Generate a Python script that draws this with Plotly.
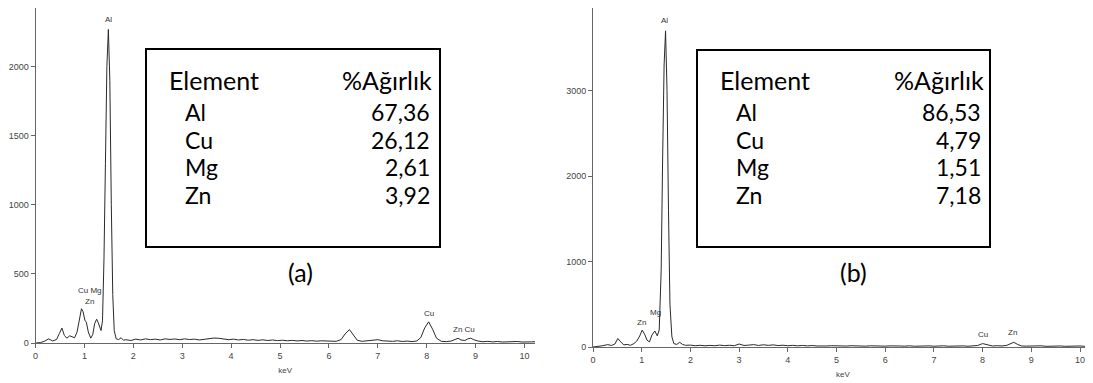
import plotly.graph_objects as go

W, H = 1093, 383
OFF = 8  # page body margin offset in the screenshot

# ---------------- data ----------------
energy_a = [0.00, 0.10, 0.18, 0.27, 0.35, 0.43, 0.49, 0.54, 0.59, 0.64, 0.70, 0.75, 0.80, 0.85, 0.90,
            0.94, 0.97, 1.01, 1.04, 1.08, 1.13, 1.17, 1.21, 1.25, 1.28, 1.31, 1.34, 1.37, 1.40, 1.43,
            1.46, 1.49, 1.52, 1.55, 1.58, 1.61, 1.65, 1.70, 1.75, 1.80, 1.85, 1.95, 2.05, 2.15, 2.25,
            2.35, 2.45, 2.55, 2.65, 2.75, 2.85, 2.95, 3.05, 3.15, 3.25, 3.35, 3.45, 3.55, 3.65, 3.75,
            3.85, 3.95, 4.05, 4.15, 4.25, 4.35, 4.45, 4.55, 4.65, 4.75, 4.85, 4.95, 5.05, 5.15, 5.25,
            5.35, 5.45, 5.55, 5.65, 5.75, 5.85, 5.95, 6.05, 6.15, 6.25, 6.33, 6.42, 6.50, 6.58, 6.68,
            6.80, 6.90, 7.00, 7.10, 7.20, 7.30, 7.40, 7.50, 7.60, 7.70, 7.80, 7.88, 7.96, 8.04, 8.12,
            8.20, 8.30, 8.40, 8.50, 8.58, 8.64, 8.70, 8.78, 8.84, 8.90, 8.96, 9.05, 9.15, 9.25, 9.35,
            9.45, 9.55, 9.65, 9.75, 9.85, 9.95, 10.05, 10.15, 10.22]
counts_a = [0, 3, 12, 30, 15, 25, 70, 108, 55, 35, 52, 45, 38, 80, 180,
            248, 230, 165, 150, 80, 35, 60, 140, 172, 150, 110, 90, 160, 600, 1300,
            2000, 2268, 1900, 1000, 350, 90, 30, 25, 38, 20, 24, 18, 28, 22, 30,
            24, 28, 22, 30, 26, 29, 24, 30, 25, 28, 22, 27, 30, 36, 34,
            28, 24, 28, 22, 26, 20, 24, 19, 23, 18, 22, 17, 20, 16, 19,
            15, 18, 14, 17, 13, 16, 14, 15, 12, 25, 65, 97, 55, 20, 12,
            15, 18, 24, 16, 14, 12, 16, 11, 14, 10, 15, 40, 110, 153, 100,
            35, 12, 10, 14, 26, 34, 22, 18, 30, 35, 24, 14, 9, 12, 8,
            11, 7, 10, 8, 11, 7, 10, 8, 9]

energy_b = [0.00, 0.10, 0.20, 0.30, 0.38, 0.45, 0.51, 0.57, 0.63, 0.70, 0.77, 0.84, 0.90, 0.96, 1.01,
            1.06, 1.11, 1.16, 1.21, 1.27, 1.32, 1.36, 1.40, 1.43, 1.46, 1.49, 1.52, 1.55, 1.58, 1.62,
            1.66, 1.72, 1.78, 1.84, 1.90, 2.00, 2.10, 2.20, 2.30, 2.40, 2.50, 2.60, 2.70, 2.80, 2.90,
            3.00, 3.10, 3.20, 3.30, 3.40, 3.50, 3.60, 3.70, 3.80, 3.90, 4.00, 4.10, 4.20, 4.30, 4.40,
            4.50, 4.60, 4.70, 4.80, 4.90, 5.00, 5.10, 5.20, 5.30, 5.40, 5.50, 5.60, 5.70, 5.80, 5.90,
            6.00, 6.10, 6.20, 6.30, 6.40, 6.50, 6.60, 6.70, 6.80, 6.90, 7.00, 7.10, 7.20, 7.30, 7.40,
            7.50, 7.60, 7.70, 7.80, 7.90, 8.00, 8.08, 8.20, 8.30, 8.40, 8.50, 8.58, 8.64, 8.72, 8.80,
            8.90, 9.00, 9.10, 9.20, 9.30, 9.40, 9.50, 9.60, 9.70, 9.80, 9.90, 10.00, 10.10, 10.20, 10.27]
counts_b = [0, 5, 15, 28, 18, 35, 100, 60, 25, 30, 20, 40, 70, 130, 198,
            150, 80, 60, 140, 187, 130, 200, 900, 2200, 3300, 3700, 3000, 1600, 500, 120,
            40, 30, 55, 30, 20, 22, 15, 20, 14, 19, 15, 22, 16, 20, 15,
            35, 18, 22, 28, 18, 26, 19, 25, 17, 21, 15, 19, 14, 18, 13,
            17, 12, 16, 12, 15, 12, 16, 11, 15, 12, 14, 10, 14, 11, 13,
            10, 13, 9, 12, 10, 14, 9, 12, 10, 13, 9, 12, 14, 9, 12,
            10, 13, 9, 12, 18, 40, 30, 12, 15, 12, 20, 45, 55, 30, 12,
            10, 12, 9, 14, 8, 11, 9, 12, 8, 11, 9, 12, 8, 11, 10]

xticks = [0, 1, 2, 3, 4, 5, 6, 7, 8, 9, 10]
yticks_a = [0, 500, 1000, 1500, 2000]
yticks_b = [0, 1000, 2000, 3000]

# peak labels: (text, keV, counts)
peak_labels_a = [("Al", 1.49, 2290), ("Cu Mg", 1.12, 330), ("Zn", 1.10, 250),
                 ("Cu", 8.04, 165), ("Zn Cu", 8.76, 50)]
peak_labels_b = [("Al", 1.46, 3740), ("Mg", 1.29, 325), ("Zn", 0.99, 205),
                 ("Cu", 8.01, 70), ("Zn", 8.62, 95)]

table_header = ["Element", "%Ağırlık"]
elements = ["Al", "Cu", "Mg", "Zn"]
wt_a = ["67,36", "26,12", "2,61", "3,92"]
wt_b = ["86,53", "4,79", "1,51", "7,18"]
panel_labels = ["(a)", "(b)"]

# ---------------- figure ----------------
LINE = "#2a2a2a"
AX = "#666666"
TICKFONT = "Liberation Sans, Arial"

fig = go.Figure()
fig.add_trace(go.Scatter(x=energy_a, y=counts_a, mode="lines", xaxis="x", yaxis="y",
                         line=dict(color=LINE, width=1), showlegend=False, hoverinfo="skip"))
fig.add_trace(go.Scatter(x=energy_b, y=counts_b, mode="lines", xaxis="x2", yaxis="y2",
                         line=dict(color=LINE, width=1), showlegend=False, hoverinfo="skip"))


def fx(x):
    return (x - OFF) / W


def fy(y):
    return 1 - (y - OFF) / H


def axis_style(**kw):
    d = dict(showline=True, linecolor=AX, linewidth=1, ticks="outside", ticklen=4,
             tickcolor=AX, tickwidth=1, showgrid=False, zeroline=False, automargin=False,
             tickfont=dict(family=TICKFONT, size=9, color="#444444"))
    d.update(kw)
    return d


# panel (a) geometry (screen pixels of the reference)
ax0, ax1 = 35.5, 535.0
ay0, ay1 = 343.0, 5.0
xr_a = (ax1 - ax0) / 48.9
yr_a = (ay0 - ay1) / 0.1395
# panel (b) geometry
bx0, bx1 = 593.0, 1093.0
by0, by1 = 347.0, 7.0
xr_b = (bx1 - bx0) / 48.7
yr_b = (by0 - by1) / 0.0857

title_font = dict(family=TICKFONT, size=8, color="#444")
fig.update_layout(
    width=W, height=H, margin=dict(l=0, r=0, t=0, b=0, autoexpand=False),
    paper_bgcolor="white", plot_bgcolor="white",
    xaxis=axis_style(domain=[fx(ax0), fx(ax1)], range=[0, xr_a], tickvals=xticks, anchor="y",
                     title=dict(text="keV", font=title_font, standoff=7)),
    yaxis=axis_style(domain=[fy(ay0), min(fy(ay1), 1)], range=[0, yr_a], tickvals=yticks_a, anchor="x"),
    xaxis2=axis_style(domain=[fx(bx0), fx(bx1)], range=[0, xr_b], tickvals=xticks, anchor="y2",
                      title=dict(text="keV", font=title_font, standoff=7)),
    yaxis2=axis_style(domain=[fy(by0), min(fy(by1), 1)], range=[0, yr_b], tickvals=yticks_b, anchor="x2"),
)

annots = []
for (t, x, y) in peak_labels_a:
    annots.append(dict(text=t, x=x, y=y, xref="x", yref="y", showarrow=False, yanchor="bottom",
                       font=dict(family=TICKFONT, size=8, color="#333")))
for (t, x, y) in peak_labels_b:
    annots.append(dict(text=t, x=x, y=y, xref="x2", yref="y2", showarrow=False, yanchor="bottom",
                       font=dict(family=TICKFONT, size=8, color="#333")))

TF = "Lato, Open Sans, sans-serif"
TS_HEAD = 25
TS_ROW = 23
shapes = []
tables = [
    dict(box=(146, 49, 440, 247), elem_x=167, val_r=432, vals=wt_a, head_r=434, label=panel_labels[0], label_x=300),
    dict(box=(697, 50, 990, 247), elem_x=718, val_r=983, vals=wt_b, head_r=986, label=panel_labels[1], label_x=853),
]
row_y = [112, 140, 167, 195]
for tb in tables:
    x0, y0, x1, y1 = tb["box"]
    shapes.append(dict(type="rect", xref="paper", yref="paper",
                       x0=fx(x0), x1=fx(x1), y0=fy(y1), y1=fy(y0),
                       line=dict(color="black", width=2), fillcolor="rgba(0,0,0,0)"))
    annots.append(dict(text=table_header[0], x=fx(tb["elem_x"]), y=fy(80), xref="paper", yref="paper",
                       showarrow=False, xanchor="left", yanchor="middle",
                       font=dict(family=TF, size=TS_HEAD, color="black")))
    annots.append(dict(text=table_header[1], x=fx(tb["head_r"]), y=fy(80), xref="paper", yref="paper",
                       showarrow=False, xanchor="right", yanchor="middle",
                       font=dict(family=TF, size=TS_HEAD, color="black")))
    for el, v, ry in zip(elements, tb["vals"], row_y):
        annots.append(dict(text=el, x=fx(tb["elem_x"] + 16), y=fy(ry), xref="paper", yref="paper",
                           showarrow=False, xanchor="left", yanchor="middle",
                           font=dict(family=TF, size=TS_ROW, color="black")))
        annots.append(dict(text=v, x=fx(tb["val_r"]), y=fy(ry), xref="paper", yref="paper",
                           showarrow=False, xanchor="right", yanchor="middle",
                           font=dict(family=TF, size=TS_ROW, color="black")))
    annots.append(dict(text=tb["label"], x=fx(tb["label_x"]), y=fy(272), xref="paper", yref="paper",
                       showarrow=False, xanchor="center", yanchor="middle",
                       font=dict(family=TF, size=TS_HEAD, color="black")))

fig.update_layout(annotations=annots, shapes=shapes)
fig.write_html("out.html")
